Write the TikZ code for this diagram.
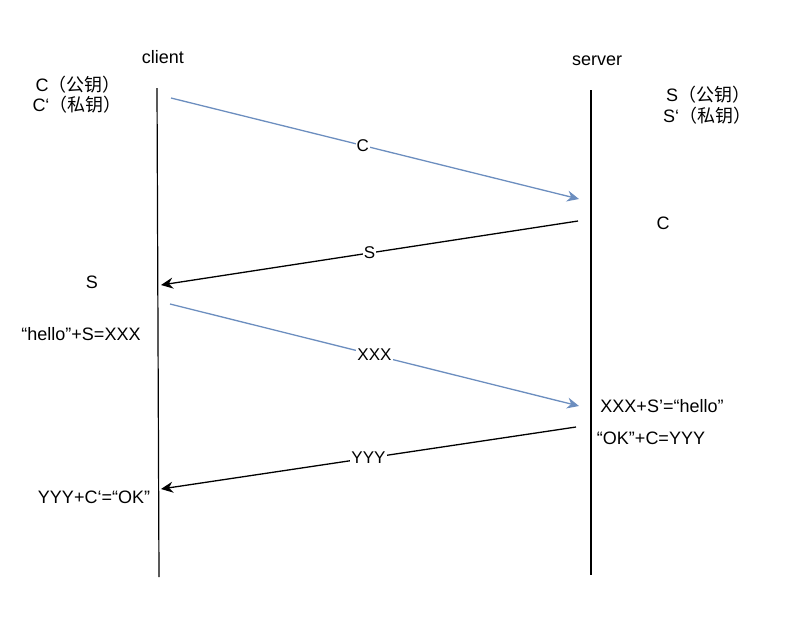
\documentclass[tikz,border=0pt]{standalone}
\usepackage{fontspec}
\setmainfont{Liberation Sans}
\newfontfamily\cjk{Noto Sans CJK SC}
\usetikzlibrary{arrows.meta}
\definecolor{msgblue}{HTML}{6C8EBF}
\begin{document}
\begin{tikzpicture}[x=1pt,y=-1pt,
  txt/.style={inner sep=0pt,font=\fontsize{18}{21}\selectfont},
  lifeline/.style={line width=1.2pt,black},
  msg/.style={line width=1.3pt,-{Stealth[length=12pt,width=11pt,inset=4pt]}},
  bluemsg/.style={msg,msgblue},
  blackmsg/.style={msg,black},
  lbl/.style={fill=white,inner sep=1pt,text=black,font=\fontsize{17}{20}\selectfont}]
\path[use as bounding box] (0,0) rectangle (811,627);
% lifelines
\coordinate (ct) at (157,88);
\coordinate (cb) at (159,577);
\coordinate (st) at (591,90);
\coordinate (sb) at (591,575);
\draw[lifeline] (ct) -- (cb);
\draw[lifeline] (st) -- (sb);
% message endpoints
\coordinate (m1a) at (171,98);  \coordinate (m1b) at (579,199);
\coordinate (m2a) at (578,221); \coordinate (m2b) at (161,285);
\coordinate (m3a) at (170,304); \coordinate (m3b) at (579,406);
\coordinate (m4a) at (576,427); \coordinate (m4b) at (161,489);
\draw[bluemsg] (m1a) -- node[lbl,pos=0.47] (l1) {C} (m1b);
\draw[blackmsg] (m2a) -- node[lbl,pos=0.5] (l2) {S} (m2b);
\draw[bluemsg] (m3a) -- node[lbl,pos=0.5] (l3) {XXX} (m3b);
\draw[blackmsg] (m4a) -- node[lbl,pos=0.5] (l4) {YYY} (m4b);
% texts
\node[txt] (client) at (163,57) {client};
\node[txt] (server) at (597,61) {server};
\node[txt] (cpub) at (78,85) {C{\cjk （公钥）}};
\node[txt] (cpriv) at (77,105) {C‘{\cjk （私钥）}};
\node[txt] (spub) at (708,95) {S{\cjk （公钥）}};
\node[txt] (spriv) at (707,116) {S‘{\cjk （私钥）}};
\node[txt] (sc) at (663,223) {C};
\node[txt] (cs) at (92,282) {S};
\node[txt] (hello) at (81,334) {“hello”+S=XXX};
\node[txt] (dec1) at (662,406) {XXX+S’=“hello”};
\node[txt] (ok) at (651,438) {“OK”+C=YYY};
\node[txt] (dec2) at (94,497) {YYY+C‘=“OK”};
\end{tikzpicture}
\end{document}
